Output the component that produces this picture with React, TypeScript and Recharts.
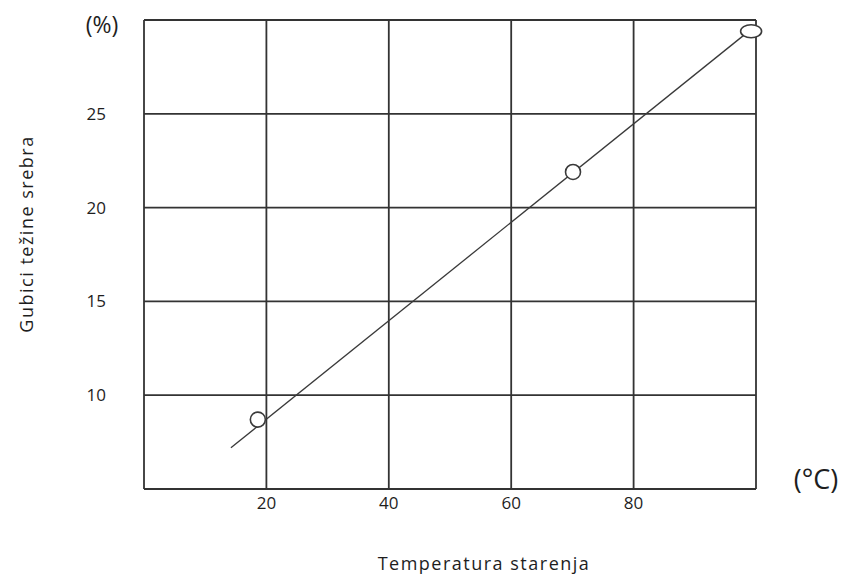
import React from "react";
import { ComposedChart, Line, Scatter, XAxis, YAxis, CartesianGrid } from "recharts";

// measured points (temperature °C, silver weight loss %)
const temps = [18.6, 70.1, 99.2];
const losses = [8.7, 21.9, 29.4];

// fitted straight line, two end points
const fitTemps = [14.2, 99.2];
const fitLosses = [7.2, 29.5];

const xTicks = [0, 20, 40, 60, 80, 100];
const yTicks = [5, 10, 15, 20, 25, 30];
const shownX = [20, 40, 60, 80];
const shownY = [10, 15, 20, 25];

const points = temps.map((x, i) => ({ x, y: losses[i] }));
const fit = fitTemps.map((x, i) => ({ x, y: fitLosses[i] }));

const FONT = "'Open Sans', Lato, sans-serif";
const INK = "#1e1e1e";

function Dot(props: any) {
  const { cx, cy, payload } = props;
  if (cx == null || cy == null) return null;
  const last = payload && payload.x === temps[temps.length - 1];
  return (
    <ellipse cx={cx} cy={cy} rx={last ? 10.5 : 7.5} ry={last ? 6.5 : 7.5}
      fill="#fff" stroke="#3a3a3a" strokeWidth={1.6} />
  );
}

export default function App() {
  return (
    <div style={{ position: "absolute", left: 0, top: 0, width: 844, height: 574, background: "#fff", fontFamily: FONT }}>
      <ComposedChart width={844} height={574} margin={{ top: 20, right: 88, bottom: 55, left: 84 }}>
        <CartesianGrid stroke="#333" strokeWidth={1.8} horizontalValues={yTicks} verticalValues={xTicks} />
        <XAxis
          type="number" dataKey="x" domain={[0, 100]} ticks={xTicks} height={30}
          axisLine={false} tickLine={false} tickSize={0} tickMargin={8}
          tick={{ fontSize: 17, fill: INK, fontFamily: FONT }}
          tickFormatter={(v) => (shownX.includes(v) ? String(v) : "")}
        />
        <YAxis
          type="number" dataKey="y" domain={[5, 30]} ticks={yTicks} width={60}
          axisLine={false} tickLine={false} tickSize={0} tickMargin={38}
          tick={{ fontSize: 17, fill: INK, fontFamily: FONT }}
          tickFormatter={(v) => (shownY.includes(v) ? String(v) : "")}
        />
        <Line data={fit} dataKey="y" type="linear" stroke="#3a3a3a" strokeWidth={1.3}
          dot={false} activeDot={false} isAnimationActive={false} />
        <Scatter data={points} dataKey="y" shape={<Dot />} isAnimationActive={false} />
      </ComposedChart>
      <svg width={844} height={574} style={{ position: "absolute", left: 0, top: 0, pointerEvents: "none" }}>
        <text x={102} y={33} textAnchor="middle" fontSize={23} fill={INK} fontFamily={FONT}>(%)</text>
        <text x={816} y={489} textAnchor="middle" fontSize={27} fill={INK} fontFamily={FONT}>(°C)</text>
        <text x={484} y={570} textAnchor="middle" fontSize={18} letterSpacing={1.5} fill={INK} fontFamily={FONT}>Temperatura starenja</text>
        <text x={33} y={234} textAnchor="middle" fontSize={18} letterSpacing={1.5} fill={INK} fontFamily={FONT}
          transform="rotate(-90 33 234)">Gubici težine srebra</text>
      </svg>
    </div>
  );
}
